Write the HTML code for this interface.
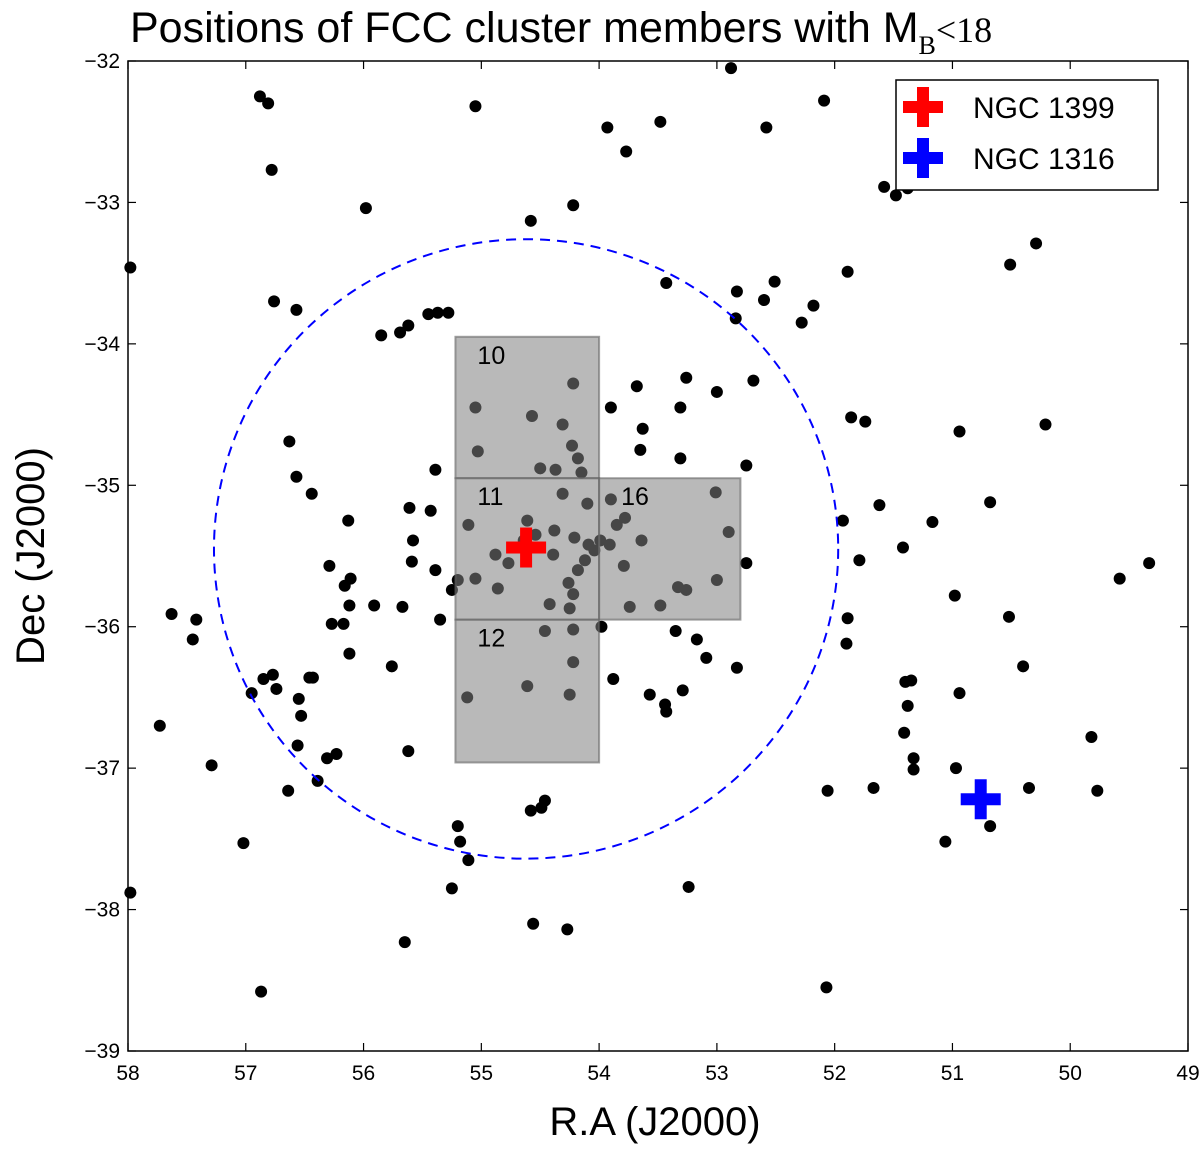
<!DOCTYPE html>
<html><head><meta charset="utf-8"><style>
body{margin:0;background:#fff;}
svg{display:block;font-family:"Liberation Sans","DejaVu Sans",sans-serif;}
</style></head><body>
<svg id="chart" width="1200" height="1154" viewBox="0 0 1200 1154" xmlns="http://www.w3.org/2000/svg"></svg>
<script>
const raVals=[57.98,57.98,56.88,56.81,56.78,55.98,55.05,54.58,54.22,53.93,53.77,53.48,52.88,52.58,52.09,51.58,51.48,51.38,50.51,50.29,51.89,52.51,52.83,52.60,52.84,53.43,52.18,52.28,56.76,56.57,55.85,55.69,55.62,55.45,55.37,55.28,55.05,55.03,54.57,54.22,54.31,54.23,54.18,54.50,54.37,54.15,54.31,56.63,56.57,56.44,56.13,55.39,55.43,55.61,55.58,55.59,55.39,55.35,55.25,55.20,55.11,55.05,54.88,54.86,54.77,54.64,54.61,54.54,54.38,54.39,54.42,54.26,54.22,54.18,54.21,54.12,54.09,54.10,53.99,54.04,53.91,53.85,53.78,53.90,53.64,53.74,53.48,53.33,53.26,53.01,52.90,52.75,53.00,52.75,53.31,53.65,53.63,53.90,53.68,53.26,53.00,52.69,53.31,53.79,56.29,56.27,56.17,56.16,56.11,56.12,55.91,55.67,55.76,56.12,56.43,56.46,56.77,56.74,56.85,56.95,56.55,56.53,56.56,56.31,56.23,56.39,56.64,57.29,57.02,56.87,57.73,57.63,57.45,57.42,55.12,54.61,54.22,54.25,54.22,54.46,54.25,53.98,53.88,53.57,53.44,53.35,53.29,53.17,53.09,53.43,52.83,55.62,55.20,55.18,55.11,55.25,54.58,54.46,54.49,54.56,54.27,55.65,53.24,52.07,52.06,51.67,51.90,51.89,51.79,51.93,51.62,51.42,51.17,50.98,50.94,50.21,51.40,51.35,51.38,51.41,51.33,51.33,50.97,51.06,50.68,50.35,49.82,49.77,49.58,49.33,50.40,50.52,50.68,51.86,51.74,50.94];
const decVals=[-33.46,-37.88,-32.25,-32.30,-32.77,-33.04,-32.32,-33.13,-33.02,-32.47,-32.64,-32.43,-32.05,-32.47,-32.28,-32.89,-32.95,-32.90,-33.44,-33.29,-33.49,-33.56,-33.63,-33.69,-33.82,-33.57,-33.73,-33.85,-33.70,-33.76,-33.94,-33.92,-33.87,-33.79,-33.78,-33.78,-34.45,-34.76,-34.51,-34.28,-34.57,-34.72,-34.81,-34.88,-34.89,-34.91,-35.06,-34.69,-34.94,-35.06,-35.25,-34.89,-35.18,-35.16,-35.39,-35.54,-35.60,-35.95,-35.74,-35.67,-35.28,-35.66,-35.49,-35.73,-35.55,-35.39,-35.25,-35.35,-35.32,-35.49,-35.84,-35.69,-35.77,-35.60,-35.37,-35.53,-35.42,-35.13,-35.39,-35.46,-35.42,-35.28,-35.23,-35.10,-35.39,-35.86,-35.85,-35.72,-35.74,-35.05,-35.33,-35.55,-35.67,-34.86,-34.81,-34.75,-34.60,-34.45,-34.30,-34.24,-34.34,-34.26,-34.45,-35.57,-35.57,-35.98,-35.98,-35.71,-35.66,-35.85,-35.85,-35.86,-36.28,-36.19,-36.36,-36.36,-36.34,-36.44,-36.37,-36.47,-36.51,-36.63,-36.84,-36.93,-36.90,-37.09,-37.16,-36.98,-37.53,-38.58,-36.70,-35.91,-36.09,-35.95,-36.50,-36.42,-36.25,-36.48,-36.02,-36.03,-35.87,-36.00,-36.37,-36.48,-36.55,-36.03,-36.45,-36.09,-36.22,-36.60,-36.29,-36.88,-37.41,-37.52,-37.65,-37.85,-37.30,-37.23,-37.28,-38.10,-38.14,-38.23,-37.84,-38.55,-37.16,-37.14,-36.12,-35.94,-35.53,-35.25,-35.14,-35.44,-35.26,-35.78,-34.62,-34.57,-36.39,-36.38,-36.56,-36.75,-36.93,-37.01,-37.00,-37.52,-37.41,-37.14,-36.78,-37.16,-35.66,-35.55,-36.28,-35.93,-35.12,-34.52,-34.55,-36.47];
const xTicks=[58,57,56,55,54,53,52,51,50,49];
const yTicks=[-32,-33,-34,-35,-36,-37,-38,-39];
const ngc1399=[54.62,-35.44];
const ngc1316=[50.76,-37.22];
const fields=[{name:"10",ra0:55.22,ra1:54.0,d0:-33.95,d1:-34.95},{name:"11",ra0:55.22,ra1:54.0,d0:-34.95,d1:-35.95},{name:"12",ra0:55.22,ra1:54.0,d0:-35.95,d1:-36.96},{name:"16",ra0:54.0,ra1:52.8,d0:-34.95,d1:-35.95}];
const circle={ra:54.62,dec:-35.45,rRa:2.65,rDec:2.19};

const L=128,R=1188,T=61,B=1051;
const X=v=>L+(58-v)/9*(R-L);
const Y=v=>T+(-32-v)/7*(B-T);
const svg=document.getElementById('chart');
const NS='http://www.w3.org/2000/svg';
function mk(tag,attrs,parent){const e=document.createElementNS(NS,tag);for(const k in attrs)e.setAttribute(k,attrs[k]);(parent||svg).appendChild(e);return e;}

let t=mk('text',{x:130,y:42,'font-size':43});


t.innerHTML='Positions of FCC cluster members with M<tspan font-size="26" dy="12" font-family="Liberation Serif">B</tspan><tspan dy="-12" font-family="Liberation Serif" font-size="36">&lt;18</tspan>';

const gd=mk('g',{});


for(let i=0;i<raVals.length;i++){
  const c=mk('circle',{cx:X(raVals[i]),cy:Y(decVals[i]),r:6,fill:'#000'},gd);
  
  
}
fields.forEach(f=>{
  const r=mk('rect',{x:X(f.ra0),y:Y(f.d0),width:X(f.ra1)-X(f.ra0),height:Y(f.d1)-Y(f.d0),fill:'rgba(128,128,128,0.55)',stroke:'rgba(100,100,100,0.6)','stroke-width':2});
  
  
});
fields.forEach(f=>{
  const tx=mk('text',{x:X(f.ra0)+22,y:Y(f.d0)+27,'font-size':25,fill:'#000'});
  
  
  tx.textContent=f.name;
});
const el=mk('ellipse',{cx:X(circle.ra),cy:Y(circle.dec),rx:X(circle.ra-circle.rRa)-X(circle.ra),ry:Y(circle.dec-circle.rDec)-Y(circle.dec),fill:'none',stroke:'#0000ff','stroke-width':2,'stroke-dasharray':'10,7'});


function cross(cx,cy,col,name){
  const g=mk('g',{fill:col});
  
  
  mk('rect',{x:cx-20,y:cy-6,width:40,height:12},g);
  mk('rect',{x:cx-6,y:cy-20,width:12,height:40},g);
}
cross(X(ngc1399[0]),Y(ngc1399[1]),'#ff0000','ngc1399-marker');
cross(X(ngc1316[0]),Y(ngc1316[1]),'#0000ff','ngc1316-marker');

const fr=mk('rect',{x:L,y:T,width:R-L,height:B-T,fill:'none',stroke:'#000','stroke-width':1.5});


xTicks.forEach(v=>{
  const x=X(v);
  mk('line',{x1:x,x2:x,y1:B,y2:B-8,stroke:'#000','stroke-width':1.2});
  mk('line',{x1:x,x2:x,y1:T,y2:T+8,stroke:'#000','stroke-width':1.2});
  const tx=mk('text',{x:x,y:B+29,'font-size':21,'text-anchor':'middle'});
  
  
  tx.textContent=v;
});
yTicks.forEach(v=>{
  const y=Y(v);
  mk('line',{x1:L,x2:L+8,y1:y,y2:y,stroke:'#000','stroke-width':1.2});
  mk('line',{x1:R,x2:R-8,y1:y,y2:y,stroke:'#000','stroke-width':1.2});
  const tx=mk('text',{x:L-8,y:y+7,'font-size':21,'text-anchor':'end'});
  
  
  tx.textContent='\u2212'+Math.abs(v);
});
let xt=mk('text',{x:655,y:1135,'font-size':40,'text-anchor':'middle'});


xt.textContent='R.A (J2000)';
let yt=mk('text',{x:0,y:0,'font-size':40,'text-anchor':'middle',transform:'translate(44,556) rotate(-90)'});


yt.textContent='Dec (J2000)';

const lg=mk('g',{});


mk('rect',{x:896,y:80,width:262,height:110,fill:'#fff',stroke:'#000','stroke-width':1.5},lg);
[['NGC 1399','#ff0000',107],['NGC 1316','#0000ff',158]].forEach(e=>{
  const g=mk('g',{fill:e[1]},lg);
  
  
  mk('rect',{x:903,y:e[2]-6,width:40,height:12},g);
  mk('rect',{x:917,y:e[2]-20,width:12,height:40},g);
  const tx=mk('text',{x:973,y:e[2]+11,'font-size':30,fill:'#000'},lg);
  
  
  tx.textContent=e[0];
});
</script>
</body></html>
